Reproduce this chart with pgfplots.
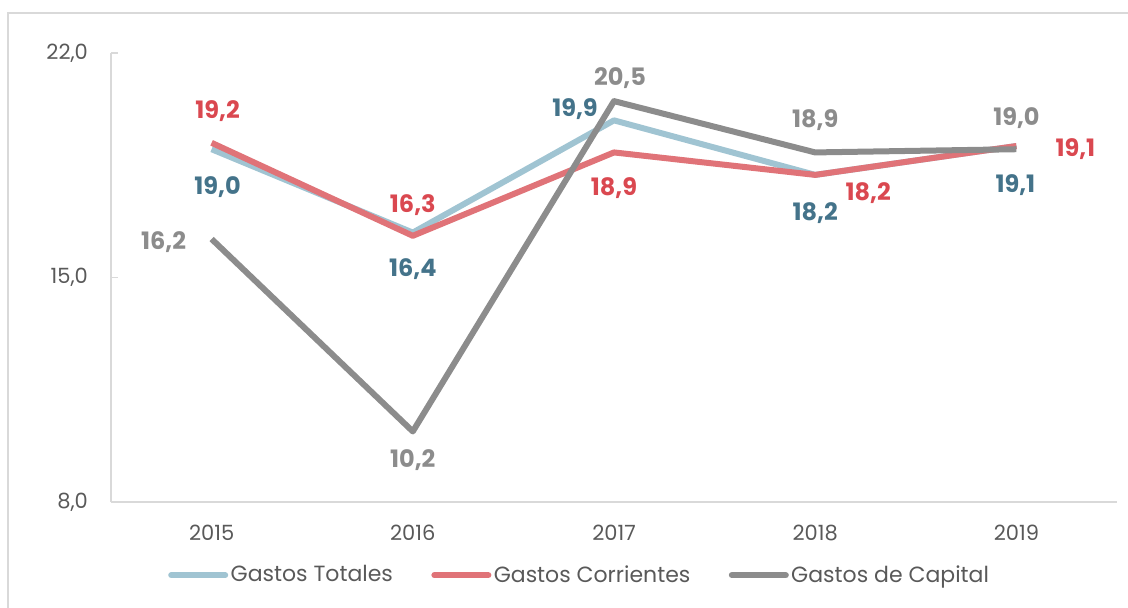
\documentclass[border=0pt]{standalone}
\usepackage{fontspec}
\setmainfont{Poppins}
\usepackage{pgfplots}
\pgfplotsset{compat=1.18}

\definecolor{cTot}{HTML}{A0C4D2}
\definecolor{cTotLab}{HTML}{44738A}
\definecolor{cCor}{HTML}{E07378}
\definecolor{cCorLab}{HTML}{DA4850}
\definecolor{cCap}{HTML}{8C8C8C}
\definecolor{cCapLab}{HTML}{8C8C8C}
\definecolor{axgray}{HTML}{D9D9D9}
\definecolor{txt}{HTML}{595959}

% label: color, x, y, dx, dy, text
\newcommand{\lab}[6]{\node[anchor=center, text=#1, font=\fontsize{12}{14}\selectfont\bfseries,
  xshift=#4pt, yshift=#5pt] at (axis cs:#2,#3) {#6};}

\begin{document}
\begin{tikzpicture}
\useasboundingbox (0,0) rectangle (564pt,303.5pt);
\draw[axgray, line width=0.8pt] (4pt,-10pt) -- (4pt,297pt) -- (580pt,297pt);
\begin{axis}[
  at={(55.5pt,52.5pt)}, anchor=south west,
  scale only axis, width=503pt, height=224.5pt,
  xmin=-0.5, xmax=4.5, ymin=8, ymax=22,
  axis x line*=bottom, axis y line*=left,
  axis line style={axgray, line width=0.8pt},
  xtick={0,1,2,3,4}, xticklabels={2015,2016,2017,2018,2019},
  xtick style={draw=none},
  ytick={8,15,22},
  ytick style={axgray, line width=0.8pt},
  tick align=inside, major tick length=3.5pt,
  ticklabel style={font=\fontsize{10.5}{12}\selectfont, text=txt},
  yticklabel style={xshift=-8pt},
  xticklabel style={yshift=-8pt},
  /pgf/number format/.cd, use comma, fixed, fixed zerofill, precision=1, assume math mode=true,
  /pgfplots/.cd,
  clip=false,
  legend style={at={(0.466,-0.163)}, anchor=center, legend columns=3, draw=none, fill=none,
    font=\fontsize{11}{13}\selectfont, text=txt,
    /tikz/every even column/.append style={column sep=18pt},
    nodes={inner sep=1.2pt}},
  legend image code/.code={\draw[#1, line cap=round] (0pt,0pt) -- (27pt,0pt);},
  every axis plot/.append style={line width=3pt, line join=round},
]
\addplot[cTot] coordinates {(0,19.0) (1,16.4) (2,19.9) (3,18.2) (4,19.1)};
\addlegendentry{Gastos Totales}
\addplot[cCor] coordinates {(0,19.2) (1,16.3) (2,18.9) (3,18.2) (4,19.1)};
\addlegendentry{Gastos Corrientes}
\addplot[cCap] coordinates {(0,16.2) (1,10.2) (2,20.5) (3,18.9) (4,19.0)};
\addlegendentry{Gastos de Capital}

\lab{cTotLab}{0}{19.0}{3}{-19}{19,0}
\lab{cTotLab}{1}{16.4}{0}{-18}{16,4}
\lab{cTotLab}{2}{19.9}{-19.5}{5.5}{19,9}
\lab{cTotLab}{3}{18.2}{0}{-19}{18,2}
\lab{cTotLab}{4}{19.1}{-0.5}{-19.5}{19,1}

\lab{cCorLab}{0}{19.2}{3}{16}{19,2}
\lab{cCorLab}{1}{16.3}{0}{15.5}{16,3}
\lab{cCorLab}{2}{18.9}{0}{-18}{18,9}
\lab{cCorLab}{3}{18.2}{26.5}{-9}{18,2}
\lab{cCorLab}{4}{19.1}{29.5}{-1.5}{19,1}

\lab{cCapLab}{0}{16.2}{-24}{-1.5}{16,2}
\lab{cCapLab}{1}{10.2}{0}{-14.5}{10,2}
\lab{cCapLab}{2}{20.5}{3}{11.5}{20,5}
\lab{cCapLab}{3}{18.9}{0}{16}{18,9}
\lab{cCapLab}{4}{19.0}{0}{15.5}{19,0}
\end{axis}
\end{tikzpicture}
\end{document}
